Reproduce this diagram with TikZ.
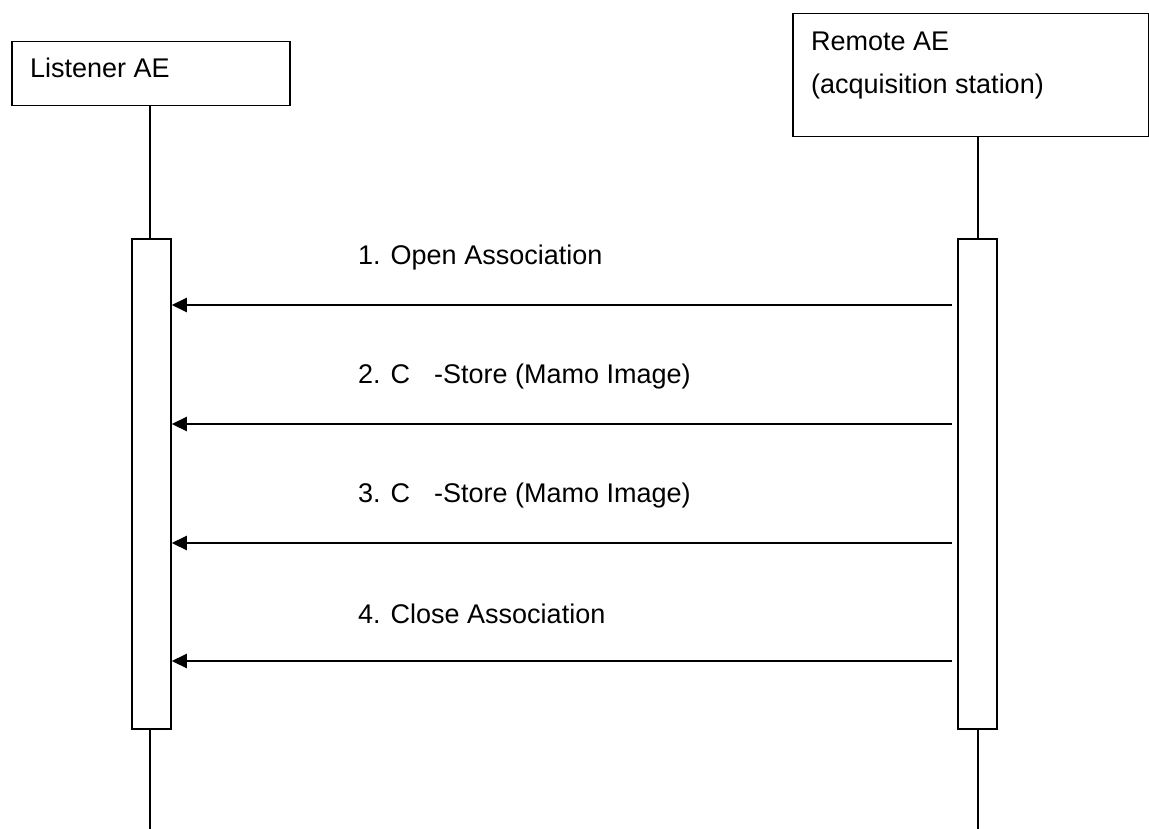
\documentclass[tikz,border=0pt]{standalone}
\usepackage{fontspec}
\setmainfont{Liberation Sans}
\usetikzlibrary{arrows.meta}
\begin{document}
\begin{tikzpicture}[
  x=1pt,y=-1pt,
  every node/.style={font=\fontsize{27}{43}\selectfont},
  objbox/.style={draw,line width=1.5pt,anchor=north west,inner sep=0pt},
  actbox/.style={draw,line width=1.8pt,anchor=north west,inner sep=0pt,minimum width=39pt,minimum height=490pt},
  lifeline/.style={line width=1.6pt},
  msg/.style={line width=2.6pt,-{Triangle[length=15pt,width=14pt]}},
  lbl/.style={anchor=west,inner sep=0pt}
]
\useasboundingbox (0,0) rectangle (1149,829);
% object boxes
\node[objbox,minimum width=278pt,minimum height=64pt] (L) at (11,41) {};
\node[objbox,minimum width=356pt,minimum height=123pt] (R) at (792,13) {};
\node[lbl] (Lt) at (30,68) {Listener AE};
\node[lbl,align=left,anchor=north west] (Rt) at (811,32) {Remote AE\\(acquisition station)};
% activation boxes
\node[actbox] (LA) at (131,238) {};
\node[actbox] (RA) at (957,238) {};
% lifeline x positions
\coordinate (Lx) at (150,0);
\coordinate (Rx) at (978,0);
\coordinate (Lend) at (150,829);
\coordinate (Rend) at (978,829);
\draw[lifeline] (L.south -| Lx) -- (LA.north -| Lx);
\draw[lifeline] (LA.south -| Lx) -- (Lend);
\draw[lifeline] (R.south -| Rx) -- (RA.north -| Rx);
\draw[lifeline] (RA.south -| Rx) -- (Rend);
% messages
\foreach \i/\y/\t in {1/305/{1. Open Association},2/424/{2. C\hspace{24pt}-Store (Mamo Image)},3/543/{3. C\hspace{24pt}-Store (Mamo Image)},4/661/{4. Close Association}}{
  \coordinate (s\i) at (952,\y);
  \coordinate (e\i) at (LA.east |- s\i);
  \draw[msg] (s\i) -- (e\i);
  \node[lbl] (m\i) at (358,\y-47) {\t};
}
\end{tikzpicture}
\end{document}
